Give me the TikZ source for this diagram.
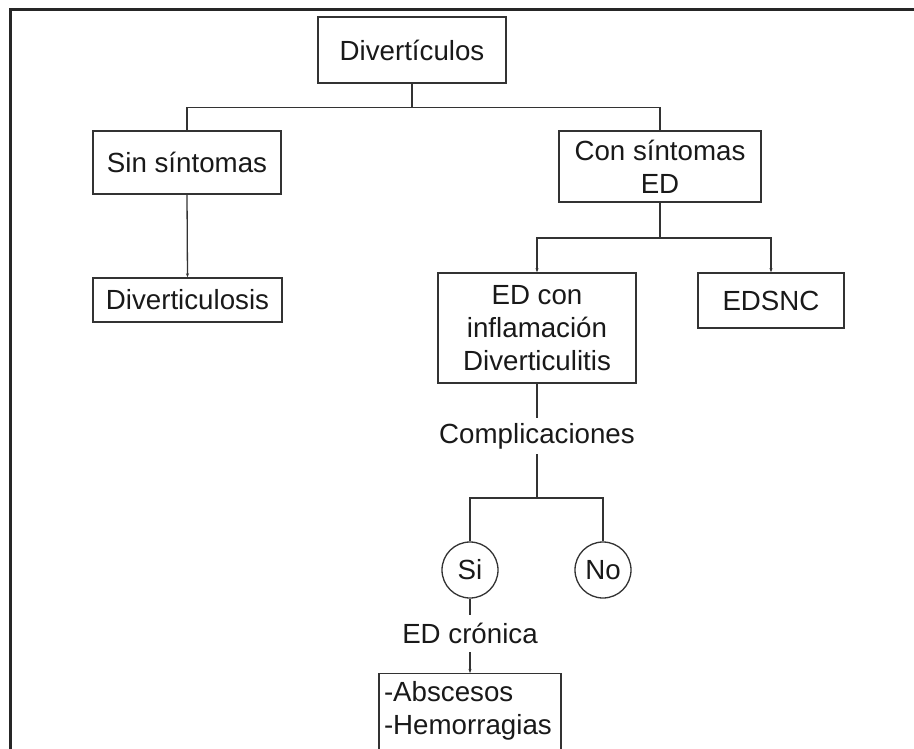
\documentclass[tikz,border=0pt]{standalone}
\usepackage{fontspec}
\setmainfont{Liberation Sans}
\usepackage{tikz}
\usetikzlibrary{arrows.meta,calc}

\begin{document}
\begin{tikzpicture}[x=1pt,y=-1pt,
	caja/.style={draw=black!80, line width=1.4pt, inner sep=0pt, align=center, text=black!90},
	txt/.style={inner sep=0pt, text=black!90},
	circulo/.style={draw=black!80, circle, line width=1.3pt, inner sep=0pt, minimum size=56pt, text=black!90},
	linea/.style={draw=black!80, line width=1.3pt},
	flecha/.style={linea, -{Stealth[length=4pt,width=3pt]}},
	font=\fontsize{27.7}{33}\selectfont]
	\useasboundingbox (0,0) rectangle (914,749);
	\clip (0,0) rectangle (914,749);
	% marco
	\draw[line width=3pt, black!85] (10,760) -- (10,10) -- (920,10);

	\node[caja, minimum width=188pt, minimum height=66pt] (div) at (412,50) {Divertículos};
	\node[caja, minimum width=188pt, minimum height=63pt] (sin) at (187,162.5) {Sin síntomas};
	\node[caja, minimum width=202pt, minimum height=71pt] (con) at (660,166.5) {Con síntomas\\ED};
	\node[caja, minimum width=189pt, minimum height=44pt] (dvs) at (187.5,300) {Diverticulosis};
	\node[caja, minimum width=198pt, minimum height=110pt] (inf) at (537,328) {ED con\\inflamación\\Diverticulitis};
	\node[caja, minimum width=146pt, minimum height=55pt] (edsnc) at (771,300.5) {EDSNC};
	\node[txt, minimum height=36pt] (comp) at (537,436) {Complicaciones};
	\node[circulo] (si) at (470,570) {Si};
	\node[circulo] (no) at (603,570) {No};
	\node[txt, minimum height=37pt] (cron) at (470,633.5) {ED crónica};
	\node[caja, minimum width=182pt, inner ysep=8pt, align=left, anchor=north,
		text width=172pt] (abs) at (470,673) {-Abscesos\\-Hemorragias\\~};

	% conexiones
	\coordinate (r1) at ($(div.south)+(0,24)$);
	\draw[linea] (div.south) -- (r1);
	\draw[linea] (sin.north) |- (r1) -| (con.north);
	\draw[flecha] (sin.south) -- (dvs.north);
	\coordinate (r2) at (con.south |- 0,238);
	\draw[linea] (con.south) -- (r2);
	\draw[flecha] (r2) -| (inf.north);
	\draw[flecha] (r2) -| (edsnc.north);
	\draw[linea] (inf.south) -- (comp.north);
	\coordinate (r3) at (comp.south |- 0,498);
	\draw[linea] (comp.south) -- (r3);
	\draw[linea] (r3) -| (si.north);
	\draw[linea] (r3) -| (no.north);
	\draw[linea] (si.south) -- (cron.north);
	\draw[flecha] (cron.south) -- (abs.north);
\end{tikzpicture}
\end{document}
